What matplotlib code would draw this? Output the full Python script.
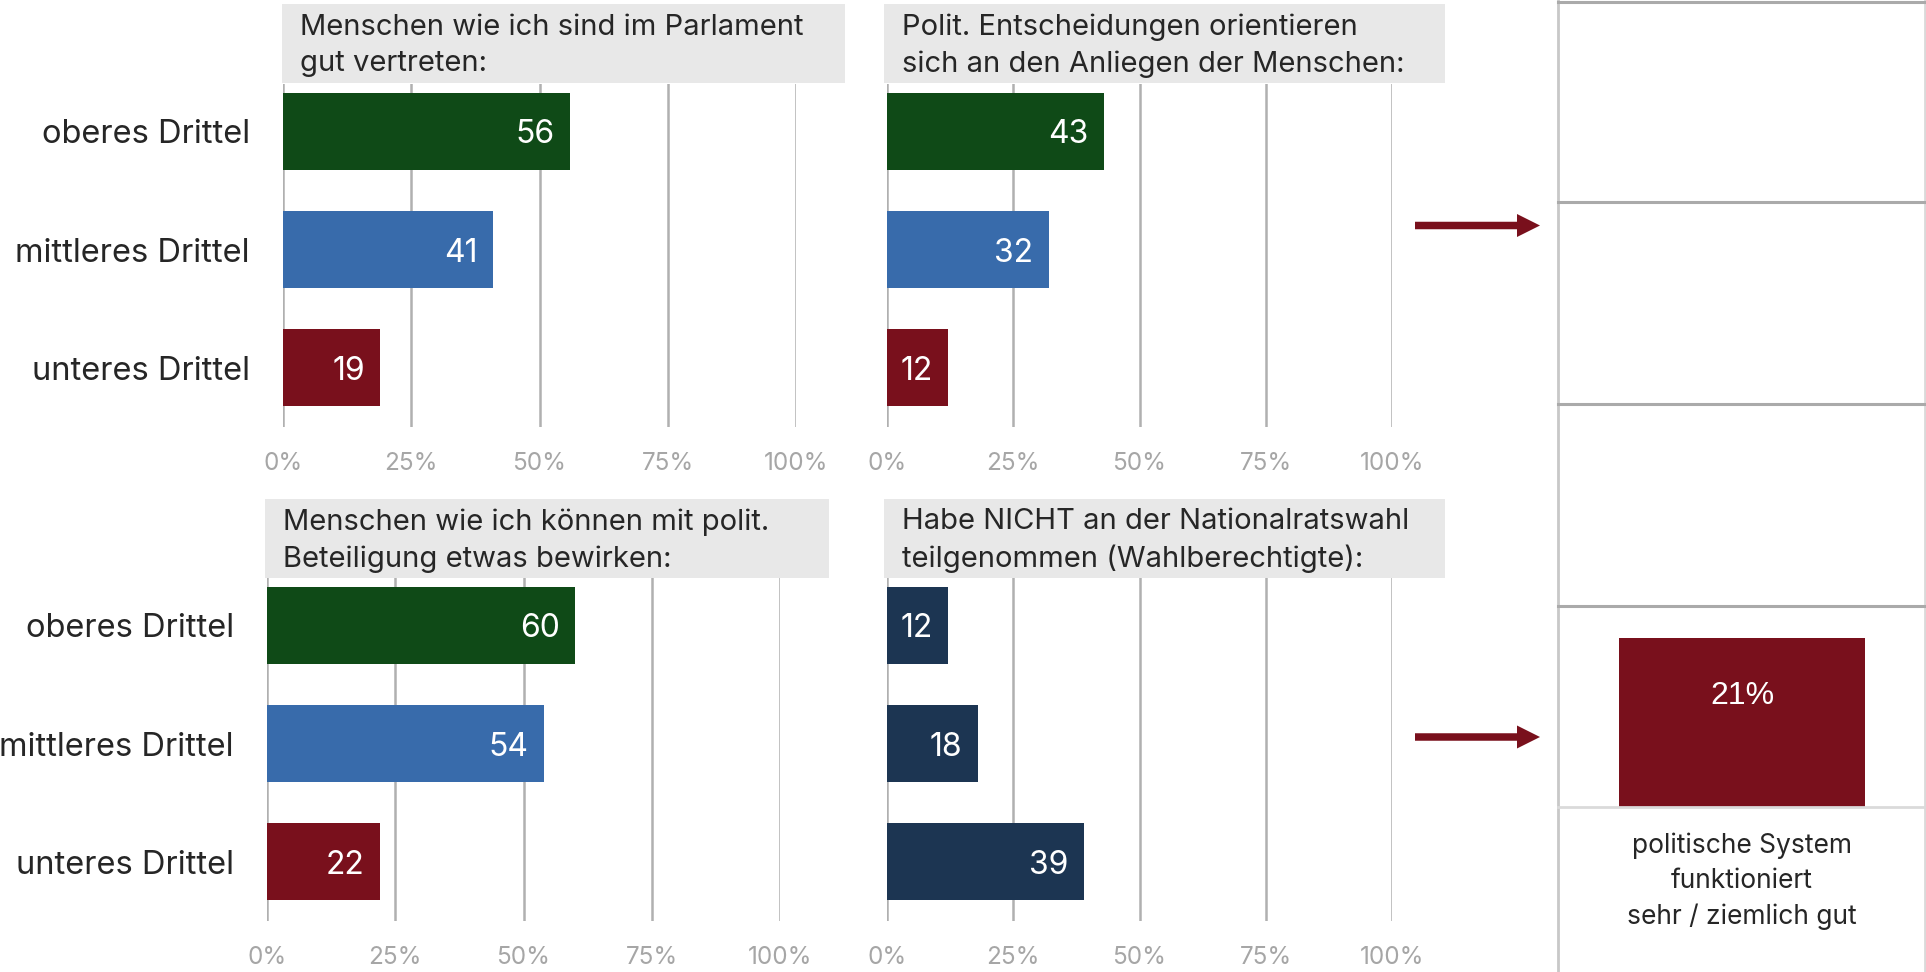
import matplotlib
matplotlib.use("Agg")
import matplotlib.pyplot as plt
import matplotlib.transforms as mtransforms
from matplotlib.patches import Rectangle, FancyArrow

# Daten
kategorien = ["oberes Drittel", "mittleres Drittel", "unteres Drittel"]
titel = [
    "Menschen wie ich sind im Parlament\ngut vertreten:",
    "Polit. Entscheidungen orientieren\nsich an den Anliegen der Menschen:",
    "Menschen wie ich können mit polit.\nBeteiligung etwas bewirken:",
    "Habe NICHT an der Nationalratswahl\nteilgenommen (Wahlberechtigte):",
]
werte_parlament = [56, 41, 19]
werte_entscheidungen = [43, 32, 12]
werte_beteiligung = [60, 54, 22]
werte_nichtwahl = [12, 18, 39]
system_gut = 21
system_text = "politische System\nfunktioniert\nsehr / ziemlich gut"
ticks = [0, 25, 50, 75, 100]
tick_labels = ["0%", "25%", "50%", "75%", "100%"]

GRUEN, BLAU, ROT, NAVY = "#0f4a17", "#386bab", "#79101c", "#1c3552"
FONT = "Inter"
plt.rcParams["font.family"] = [FONT, "DejaVu Sans"]

W, H = 1926, 972
fig = plt.figure(figsize=(W / 100, H / 100), dpi=100)
# Pixel-Koordinaten, Ursprung oben links
px = mtransforms.Affine2D().scale(1 / 100, -1 / 100).translate(0, H / 100) + fig.dpi_scale_trans


def rect(x0, x1, top, bottom):
    return [x0 / W, 1 - bottom / H, (x1 - x0) / W, (bottom - top) / H]


def panel(x0, x1, top, bottom, werte, farben, titel_text, box, labels=True, ylim=(2.5, -0.4)):
    ax = fig.add_axes(rect(x0, x1, top, bottom))
    ax.barh(range(3), werte, height=0.65, color=farben, zorder=3)
    for i, v in enumerate(werte):
        ax.annotate(str(v), xy=(v, i), xytext=(-11, -2.5), textcoords="offset points",
                    ha="right", va="center", color="white", fontsize=23, zorder=4)
    ax.set_xlim(0, 100)
    ax.set_ylim(*ylim)
    ax.set_xticks(ticks, tick_labels)
    ax.tick_params(axis="x", length=0, pad=18, labelsize=17.5, labelcolor="#a6a6a6")
    if labels:
        ax.set_yticks(range(3), kategorien)
        ax.tick_params(axis="y", length=0, pad=24, labelsize=23.5, labelcolor="#262626")
    else:
        ax.set_yticks([])
    ax.grid(axis="x", color="#b0b0b0", lw=1.8, zorder=0)
    ax.grid(axis="y", visible=False)
    for s in ax.spines.values():
        s.set_visible(False)
    bx0, bx1, by0, by1 = box
    fig.add_artist(Rectangle((bx0, by0), bx1 - bx0, by1 - by0, transform=px,
                             facecolor="#e8e8e8", edgecolor="none", zorder=5))
    fig.text(bx0 + 18, (by0 + by1) / 2 + 2, titel_text, transform=px, ha="left", va="center",
             fontsize=21, color="#262626", linespacing=1.45, zorder=6)
    return ax


panel(283, 796, 84, 427, werte_parlament, [GRUEN, BLAU, ROT], titel[0], (282, 845, 4, 83))
panel(887, 1392, 84, 427, werte_entscheidungen, [GRUEN, BLAU, ROT], titel[1], (884, 1445, 4, 83), labels=False)
panel(267, 780, 578, 921, werte_beteiligung, [GRUEN, BLAU, ROT], titel[2], (265, 829, 499, 578))
panel(887, 1392, 578, 921, werte_nichtwahl, [NAVY] * 3, titel[3], (884, 1445, 499, 578), labels=False)

# Rechte Tabelle
fig.add_artist(plt.Line2D([1558, 1558], [0, H], transform=px, color="#c8c8c8", lw=2))
fig.add_artist(plt.Line2D([1925, 1925], [0, H], transform=px, color="#d9d9d9", lw=2))
for y in [2, 202, 404, 606]:
    fig.add_artist(plt.Line2D([1558, W], [y, y], transform=px, color="#aaaaaa", lw=2.2))
fig.add_artist(plt.Line2D([1558, W], [807, 807], transform=px, color="#dadada", lw=2))

# Pfeile
for y in [225.5, 737]:
    fig.add_artist(FancyArrow(1415, y, 125, 0, width=7.5, head_width=23, head_length=23,
                              length_includes_head=True, transform=px, color=ROT, lw=0))

# Säule "politische System"
axs = fig.add_axes(rect(1558, 1926, 606, 807))
axs.bar([0], [system_gut], width=1.0, color=ROT)
axs.annotate(f"{system_gut}%", xy=(0, system_gut), xytext=(0, -42), textcoords="offset points",
             ha="center", va="center", color="white", fontsize=23, family="Liberation Sans")
axs.set_xlim(-0.75, 0.75)
axs.set_ylim(0, 25)
axs.axis("off")
fig.text(1742, 881, system_text, transform=px, ha="center", va="center",
         fontsize=19, color="#262626", linespacing=1.45)

fig.savefig("out.png", dpi=100)
